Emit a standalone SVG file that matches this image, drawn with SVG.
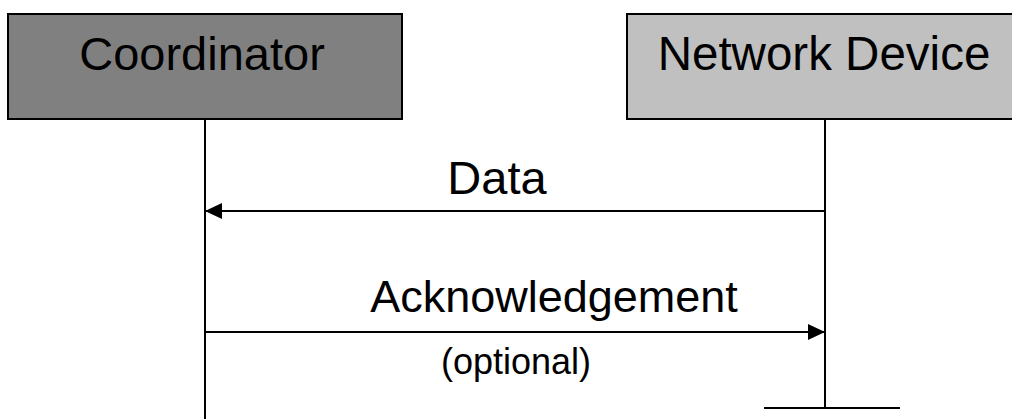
<svg xmlns="http://www.w3.org/2000/svg" width="1012" height="419" viewBox="0 0 1012 419">
<style>
.box{stroke:#000;stroke-width:2}
.t{font-family:"Liberation Sans",Arial,sans-serif;fill:#000;text-anchor:middle}
.ln{stroke:#000;stroke-width:2;fill:none}
</style>
<defs>
<marker id="ah" viewBox="0 0 17 16" refX="17" refY="8" markerWidth="17" markerHeight="16" markerUnits="userSpaceOnUse" orient="auto">
<path d="M0,0 L17,8 L0,16 Z" fill="#000"/>
</marker>
</defs>
<rect width="1012" height="419" fill="#fff"/>
<g id="coordinator">
<rect class="box" x="8" y="14" width="394" height="105" fill="#808080"/>
<text class="t" x="202" y="70" font-size="47">Coordinator</text>
</g>
<g id="network-device">
<rect class="box" x="627" y="14" width="400" height="105" fill="#c0c0c0"/>
<text class="t" x="824" y="70" font-size="47.5">Network Device</text>
</g>
<g id="connectors">
<line class="ln" x1="205" y1="119" x2="205" y2="419"/>
<line class="ln" x1="825" y1="119" x2="825" y2="408"/>
<line class="ln" x1="764" y1="408" x2="900" y2="408"/>
<line class="ln" x1="825" y1="211" x2="205" y2="211" marker-end="url(#ah)"/>
<line class="ln" x1="205" y1="332" x2="825" y2="332" marker-end="url(#ah)"/>
</g>
<g id="labels">
<text class="t" x="497" y="194" font-size="47">Data</text>
<text class="t" x="554" y="312" font-size="45">Acknowledgement</text>
<text class="t" x="516" y="374" font-size="36">(optional)</text>
</g>
</svg>
